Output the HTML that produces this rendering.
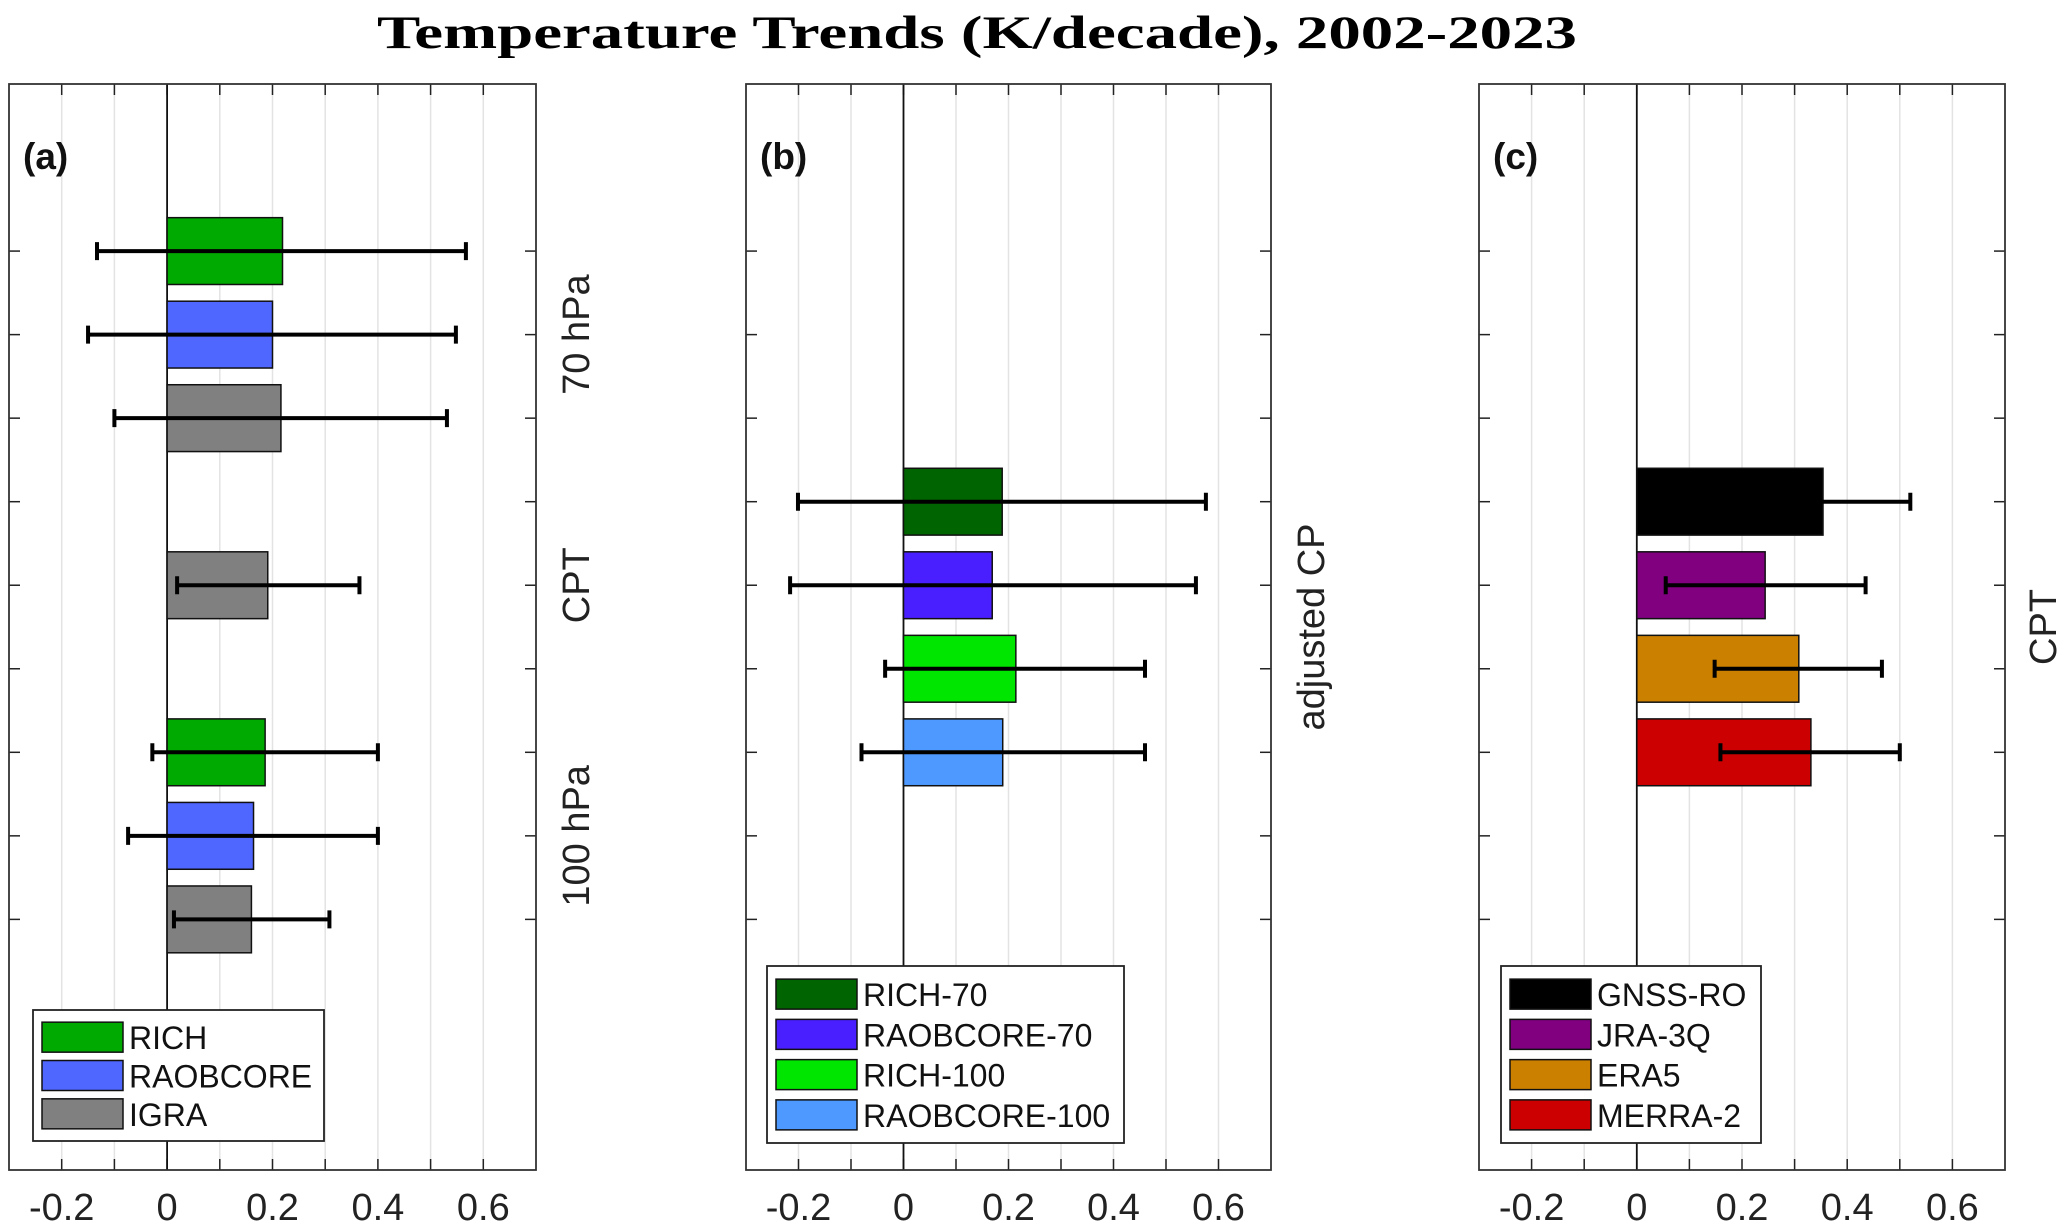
<!DOCTYPE html>
<html><head><meta charset="utf-8"><style>
body{margin:0;background:#fff;width:2067px;height:1230px;overflow:hidden}
svg{display:block}
text{font-family:"Liberation Sans",sans-serif}
</style></head><body>
<svg id="fig" width="2067" height="1230" viewBox="0 0 2067 1230">
<text x="977" y="48" text-anchor="middle" font-weight="bold" font-size="47" textLength="1200" lengthAdjust="spacingAndGlyphs" style="font-family:'Liberation Serif',serif">Temperature Trends (K/decade), 2002-2023</text>
</svg>
<script>
// ---- data ----
const xTicks = [-0.2, 0, 0.2, 0.4, 0.6];
const panelLabels = ["(a)", "(b)", "(c)"];
// panel a
const aNames = ["RICH", "RAOBCORE", "IGRA", "IGRA", "RICH", "RAOBCORE", "IGRA"];
const aPos = [1, 2, 3, 5, 7, 8, 9];
const aVals = [0.219, 0.200, 0.216, 0.191, 0.186, 0.164, 0.160];
const aLo = [-0.133, -0.150, -0.100, 0.019, -0.028, -0.074, 0.013];
const aHi = [0.567, 0.548, 0.531, 0.365, 0.400, 0.400, 0.308];
const aColors = ["#00aa00", "#4f66ff", "#808080", "#808080", "#00aa00", "#4f66ff", "#808080"];
const aSideLabels = ["70 hPa", "CPT", "100 hPa"];
const aSidePos = [2, 5, 8];
// panel b
const bNames = ["RICH-70", "RAOBCORE-70", "RICH-100", "RAOBCORE-100"];
const bPos = [4, 5, 6, 7];
const bVals = [0.188, 0.169, 0.214, 0.189];
const bLo = [-0.201, -0.216, -0.035, -0.080];
const bHi = [0.576, 0.557, 0.460, 0.460];
const bColors = ["#006400", "#4a1fff", "#00e600", "#4d99ff"];
// panel c
const cNames = ["GNSS-RO", "JRA-3Q", "ERA5", "MERRA-2"];
const cPos = [4, 5, 6, 7];
const cVals = [0.354, 0.244, 0.308, 0.331];
const cLo = [0.190, 0.055, 0.148, 0.159];
const cHi = [0.520, 0.435, 0.466, 0.500];
const cColors = ["#000000", "#800080", "#cc8000", "#cc0000"];

const NS = "http://www.w3.org/2000/svg";
const svg = document.getElementById("fig");
function mk(tag, attrs, parent) {
  const e = document.createElementNS(NS, tag);
  for (const k in attrs) e.setAttribute(k, attrs[k]);
  (parent || svg).appendChild(e);
  return e;
}
const TOP = 84, BOT = 1170, XMIN = -0.3, XMAX = 0.7, YMIN = -1, YMAX = 12;
function yS(p) { return TOP + (p - YMIN) / (YMAX - YMIN) * (BOT - TOP); }

function panel(idx, left, right, names, pos, vals, lo, hi, colors, legendBox, sideLabels, sidePos, sideX) {
  const W = right - left;
  const xS = v => left + (v - XMIN) / (XMAX - XMIN) * W;
  const g = mk("g", {});
  
  
  for (let i = -2; i <= 6; i++) {
    const v = i / 10;
    const gl = mk("line", {x1: xS(v), x2: xS(v), y1: TOP, y2: BOT, stroke: "#e3e3e3", "stroke-width": 1.5}, g);
    
    
    const t1 = mk("line", {x1: xS(v), x2: xS(v), y1: TOP, y2: TOP + 11, stroke: "#222", "stroke-width": 1.5}, g);
    
    
    const t2 = mk("line", {x1: xS(v), x2: xS(v), y1: BOT, y2: BOT - 11, stroke: "#222", "stroke-width": 1.5}, g);
    
    
  }
  const z = mk("line", {x1: xS(0), x2: xS(0), y1: TOP, y2: BOT, stroke: "#111", "stroke-width": 1.8}, g);
  
  
  for (let p = 1; p <= 9; p++) {
    const l1 = mk("line", {x1: left, x2: left + 11, y1: yS(p), y2: yS(p), stroke: "#222", "stroke-width": 1.5}, g);
    
    
    const l2 = mk("line", {x1: right, x2: right - 11, y1: yS(p), y2: yS(p), stroke: "#222", "stroke-width": 1.5}, g);
    
    
  }
  const bh = 0.8 * (yS(1) - yS(0));
  for (let i = 0; i < vals.length; i++) {
    const x0 = xS(0), x1 = xS(vals[i]);
    const r = mk("rect", {x: Math.min(x0, x1), y: yS(pos[i]) - bh / 2, width: Math.abs(x1 - x0), height: bh, fill: colors[i], stroke: "#111", "stroke-width": 1.5}, g);
    
    
  }
  for (let i = 0; i < vals.length; i++) {
    const y = yS(pos[i]);
    const e = mk("path", {d: `M${xS(lo[i])},${y}H${xS(hi[i])}M${xS(lo[i])},${y - 9}V${y + 9}M${xS(hi[i])},${y - 9}V${y + 9}`, stroke: "#000", "stroke-width": 4, fill: "none"}, g);
    
    
  }
  const f = mk("rect", {x: left, y: TOP, width: W, height: BOT - TOP, fill: "none", stroke: "#333", "stroke-width": 1.8}, g);
  
  
  for (let i = 0; i < xTicks.length; i++) {
    const t = mk("text", {x: xS(xTicks[i]), y: 1220, "text-anchor": "middle", "font-size": 38, fill: "#222"}, g);
    t.textContent = String(xTicks[i]);
    
    
  }
  const pl = mk("text", {x: left + 14, y: 169, "font-size": 37, "font-weight": "bold", fill: "#111"}, g);
  pl.textContent = panelLabels[idx];
  
  
  for (let i = 0; i < sideLabels.length; i++) {
    const y = yS(sidePos[i]);
    const s = mk("text", {x: sideX, y: y, "text-anchor": "middle", "font-size": 38, fill: "#222", transform: `rotate(-90 ${sideX} ${y})`, dy: 13}, g);
    s.textContent = sideLabels[i];
    
    
  }
  const [lx, ly, lw, lh, n, start] = legendBox;
  const lg = mk("g", {}, g);
  
  
  const lb = mk("rect", {x: lx, y: ly, width: lw, height: lh, fill: "#fff", stroke: "#222", "stroke-width": 1.8}, lg);
  
  
  const step = (lh - 16) / n;
  for (let k = 0; k < n; k++) {
    const i = start[k];
    const cy = ly + 8 + step * (k + 0.5);
    const sw = mk("rect", {x: lx + 9, y: cy - 15, width: 81, height: 30, fill: colors[i], stroke: "#111", "stroke-width": 1.5}, lg);
    
    
    const lt = mk("text", {x: lx + 96, y: cy + 12, "font-size": 32, fill: "#111"}, lg);
    lt.textContent = names[i];
    
    
  }
}
panel(0, 9, 536, aNames, aPos, aVals, aLo, aHi, aColors, [33, 1010, 291, 131, 3, [0, 1, 2]], aSideLabels, aSidePos, 576);
panel(1, 746, 1271, bNames, bPos, bVals, bLo, bHi, bColors, [767, 966, 357, 177, 4, [0, 1, 2, 3]], ["adjusted CP"], [5.5], 1311);
panel(2, 1479, 2005, cNames, cPos, cVals, cLo, cHi, cColors, [1501, 966, 260, 177, 4, [0, 1, 2, 3]], ["CPT"], [5.5], 2043);
</script>
</body></html>
